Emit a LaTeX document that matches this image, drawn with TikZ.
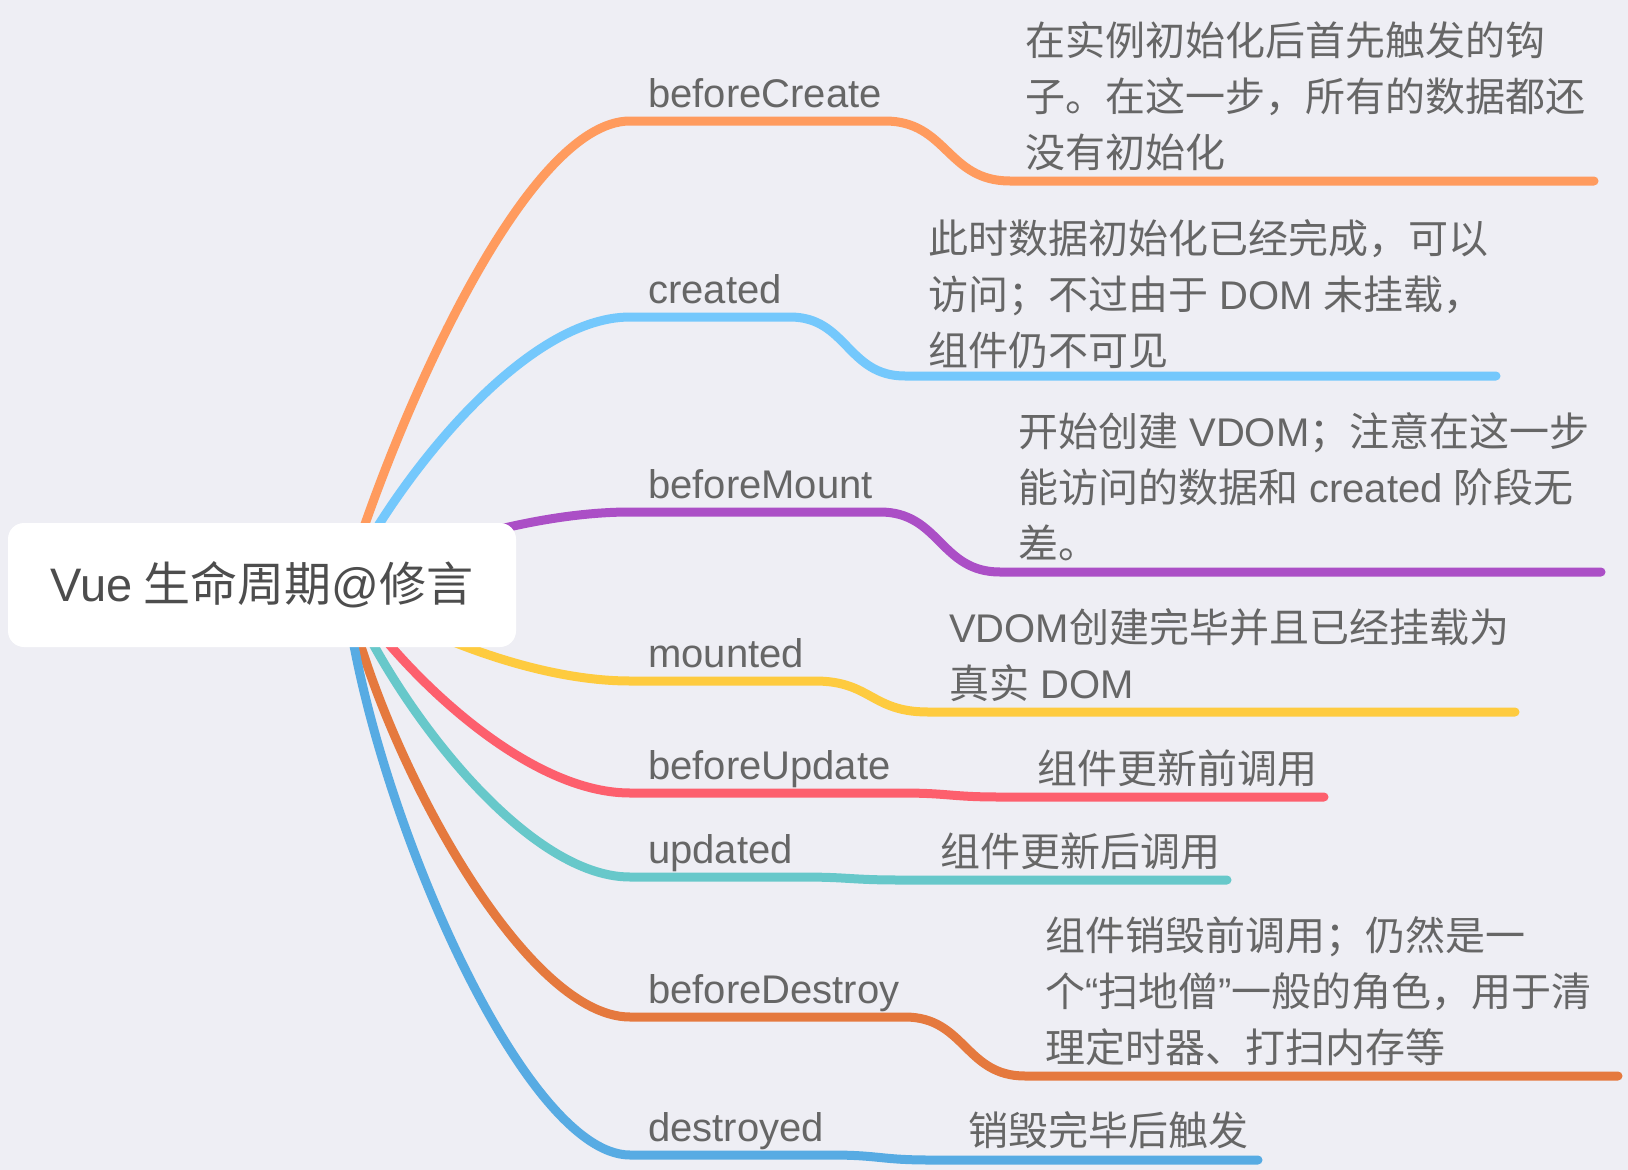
\documentclass[tikz,border=0pt]{standalone}
\usepackage{fontspec}
\setmainfont{Liberation Sans}
\newfontfamily\cjk{Noto Sans CJK SC}
\newcommand{\lat}[1]{{\rmfamily #1}}
\definecolor{bgcol}{HTML}{EEEEF4}
\definecolor{txtgray}{HTML}{666666}
\definecolor{rootgray}{HTML}{4D4D4D}
\definecolor{cOrange}{HTML}{FF9B5E}
\definecolor{cSky}{HTML}{74C8FC}
\definecolor{cPurple}{HTML}{AB4FC6}
\definecolor{cYellow}{HTML}{FECB3F}
\definecolor{cRed}{HTML}{FD5F6D}
\definecolor{cTeal}{HTML}{67C8CA}
\definecolor{cRust}{HTML}{E5793E}
\definecolor{cBlue}{HTML}{57ABE3}
\tikzset{branch/.style={line width=9pt, line cap=round},
  lbl/.style={anchor=base west, inner sep=0pt, text=txtgray, font=\fontsize{40}{48}\selectfont},
  desc/.style={anchor=west, inner sep=0pt, align=left, text=txtgray, font=\cjk\fontsize{40}{56}\selectfont},
  rootbox/.style={fill=white, rounded corners=16pt, minimum width=508pt, minimum height=124pt, text=rootgray, font=\cjk\fontsize{47}{52}\selectfont}}

\begin{document}
\begin{tikzpicture}[x=1pt,y=-1pt]
   \fill[bgcol] (0,0) rectangle (1628,1170);
   \useasboundingbox (0,0) rectangle (1628,1170);
   \coordinate (hub) at (345,585);
   \coordinate (bcA) at (630,121);  \coordinate (bcB) at (885,121);  \coordinate (bcC) at (1010,181); \coordinate (bcD) at (1594,181);
   \coordinate (crA) at (630,317);  \coordinate (crB) at (790,317);  \coordinate (crC) at (905,376);  \coordinate (crD) at (1496,376);
   \coordinate (bmA) at (630,512);  \coordinate (bmB) at (880,512);  \coordinate (bmC) at (1000,572); \coordinate (bmD) at (1601,572);
   \coordinate (mdA) at (630,681);  \coordinate (mdB) at (815,681);  \coordinate (mdC) at (928,712);  \coordinate (mdD) at (1515,712);
   \coordinate (buA) at (630,793);  \coordinate (buB) at (900,793);  \coordinate (buC) at (1000,797); \coordinate (buD) at (1324,797);
   \coordinate (udA) at (630,877);  \coordinate (udB) at (800,877);  \coordinate (udC) at (900,880);  \coordinate (udD) at (1227,880);
   \coordinate (bdA) at (630,1017); \coordinate (bdB) at (905,1017); \coordinate (bdC) at (1025,1076); \coordinate (bdD) at (1618,1076);
   \coordinate (dsA) at (630,1155); \coordinate (dsB) at (830,1155); \coordinate (dsC) at (930,1160); \coordinate (dsD) at (1258,1160);
   \draw[branch,cOrange] (hub) .. controls (395,420) and (525,121) .. (bcA) -- (bcB) .. controls (947,121) and (947,181) .. (bcC) -- (bcD);
   \draw[branch,cSky]    (hub) .. controls (390,490) and (520,317) .. (crA) -- (crB) .. controls (847,317) and (847,376) .. (crC) -- (crD);
   \draw[branch,cPurple] (hub) .. controls (390,559) and (520,512) .. (bmA) -- (bmB) .. controls (940,512) and (940,572) .. (bmC) -- (bmD);
   \draw[branch,cYellow] (hub) .. controls (390,619) and (520,681) .. (mdA) -- (mdB) .. controls (871,681) and (871,712) .. (mdC) -- (mdD);
   \draw[branch,cRed]    (hub) .. controls (390,659) and (520,793) .. (buA) -- (buB) .. controls (950,793) and (950,797) .. (buC) -- (buD);
   \draw[branch,cTeal]   (hub) .. controls (385,689) and (520,877) .. (udA) -- (udB) .. controls (850,877) and (850,880) .. (udC) -- (udD);
   \draw[branch,cRust]   (hub) .. controls (375,738) and (520,1017) .. (bdA) -- (bdB) .. controls (965,1017) and (965,1076) .. (bdC) -- (bdD);
   \draw[branch,cBlue]   (hub) .. controls (365,787) and (520,1155) .. (dsA) -- (dsB) .. controls (880,1155) and (880,1160) .. (dsC) -- (dsD);
   \node[rootbox] (root) at (262,585) {\lat{Vue} 生命周期\lat{@}修言};
   \node[lbl] (bc) at (648,107)  {beforeCreate};
   \node[lbl] (cr) at (648,303)  {created};
   \node[lbl] (bm) at (648,498)  {beforeMount};
   \node[lbl] (md) at (648,667)  {mounted};
   \node[lbl] (bu) at (648,779)  {beforeUpdate};
   \node[lbl] (ud) at (648,863)  {updated};
   \node[lbl] (bd) at (648,1003) {beforeDestroy};
   \node[lbl] (ds) at (648,1141) {destroyed};
   \node[desc] (bcText) at (1025,96)  {在实例初始化后首先触发的钩\\子。在这一步，所有的数据都还\\没有初始化};
   \node[desc] (crText) at (928,294)  {此时数据初始化已经完成，可以\\访问；不过由于\lat{ DOM }未挂载，\\组件仍不可见};
   \node[desc] (bmText) at (1018,487) {开始创建\lat{ VDOM}；注意在这一步\\能访问的数据和\lat{ created }阶段无\\差。};
   \node[desc] (mdText) at (949,655)  {\lat{VDOM}创建完毕并且已经挂载为\\真实\lat{ DOM}};
   \node[desc] (buText) at (1037,768) {组件更新前调用};
   \node[desc] (udText) at (940,851)  {组件更新后调用};
   \node[desc] (bdText) at (1045,991) {组件销毁前调用；仍然是一\\个\lat{“}扫地僧\lat{”}一般的角色，用于清\\理定时器、打扫内存等};
   \node[desc] (dsText) at (968,1130) {销毁完毕后触发};
\end{tikzpicture}
\end{document}
